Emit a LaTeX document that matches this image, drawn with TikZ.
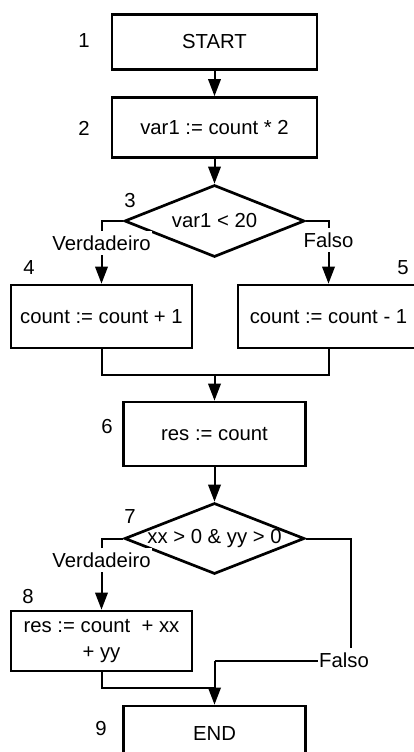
\documentclass[tikz,border=0pt]{standalone}
\usepackage{fontspec}
\setmainfont{Liberation Sans}
\usetikzlibrary{arrows.meta,shapes.geometric}
\begin{document}
\begin{tikzpicture}[x=1pt,y=-1pt,
  every node/.style={font=\fontsize{20.3}{26}\selectfont},
  stepbox/.style={draw, line width=2.7pt, rectangle, inner sep=0pt, align=center},
  decision/.style={draw, line width=2.7pt, diamond, inner sep=0pt,
    minimum width=180pt, minimum height=72pt},
  flow/.style={line width=2pt},
  arrowflow/.style={flow, -{Triangle[length=17pt,width=12.5pt]}},
  branch/.style={fill=white, inner xsep=1pt, inner ysep=5pt},
  tag/.style={inner sep=0pt}]
\useasboundingbox (0,0) rectangle (414,752);

% process steps and decisions
\node[stepbox, minimum width=205pt, minimum height=55pt] (start) at (214.5,42) {START};
\node[stepbox, minimum width=205pt, minimum height=60pt] (b2) at (214.5,127.5) {var1 := count * 2};
\node[decision] (d3) at (214.5,221) {\makebox[0pt]{var1 < 20}};
\node[stepbox, minimum width=181pt, minimum height=63pt] (b4) at (101.5,316.5) {count := count + 1};
\node[stepbox, minimum width=181pt, minimum height=63pt] (b5) at (328.5,316.5) {count := count - 1};
\node[stepbox, minimum width=182pt, minimum height=64pt] (b6) at (214.5,434) {res := count};
\node[decision, minimum height=71pt] (d7) at (214.5,538.5) {\makebox[0pt]{xx > 0 \& yy > 0}};
\node[stepbox, minimum width=181pt, minimum height=60pt] (b8) at (101.5,641) {res := count\ \ + xx\\+ yy};
\node[stepbox, minimum width=182pt, minimum height=55pt] (end) at (214.5,733.5) {END};

% step numbers
\node[tag] (n1) at (84,41) {1};
\node[tag] (n2) at (84,128) {2};
\node[tag] (n3) at (130,201) {3};
\node[tag] (n4) at (29,268) {4};
\node[tag] (n5) at (403,268) {5};
\node[tag] (n6) at (107,427) {6};
\node[tag] (n7) at (130,517) {7};
\node[tag] (n8) at (28,597) {8};
\node[tag] (n9) at (101,729) {9};

% junction points
\coordinate (join1) at (214.5,375);
\coordinate (fcorner) at (351,661);
\coordinate (fturn) at (214.5,661);
\coordinate (join2) at (214.5,688);

% connectors
\draw[arrowflow] (start) -- (b2);
\draw[arrowflow] (b2) -- (d3);
\draw[arrowflow] (d3.west) -| (b4.north);
\draw[arrowflow] (d3.east) -| (b5.north);
\draw[flow] (b4.south) |- (join1) -| (b5.south);
\draw[arrowflow] (join1) -- (b6.north);
\draw[arrowflow] (b6) -- (d7);
\draw[arrowflow] (d7.west) -| (b8.north);
\draw[flow] (d7.east) -| (fcorner) -- (fturn);
\draw[flow] (b8.south) |- (join2);
\draw[arrowflow] (fturn) -- (end.north);

% branch labels
\node[branch] (t3) at (101.5,243) {Verdadeiro};
\node[branch] (f3) at (328.5,240) {Falso};
\node[branch] (t7) at (101.5,560) {Verdadeiro};
\node[branch] (f7) at (344,660) {Falso};
\end{tikzpicture}
\end{document}
